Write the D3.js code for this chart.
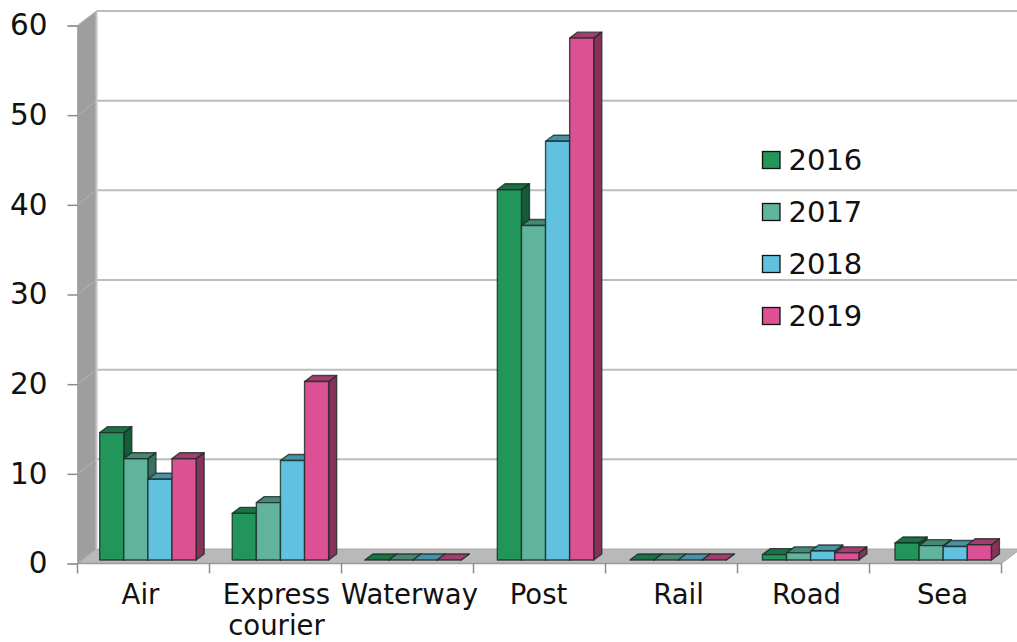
<!DOCTYPE html>
<html><head><meta charset="utf-8">
<script src="https://cdn.jsdelivr.net/npm/d3@7"></script>
<style>html,body{margin:0;padding:0;background:#fff;overflow:hidden}svg{display:block}text{font-family:"DejaVu Sans",sans-serif;fill:#111}</style>
</head><body><svg id="c" width="1017" height="642"></svg>
<script>
const categories = ["Air","Express courier","Waterway","Post","Rail","Road","Sea"];
const years = ["2016","2017","2018","2019"];
const values2016 = [14.2,5.2,0,41.3,0,0.6,1.9];
const values2017 = [11.3,6.4,0,37.3,0,0.8,1.6];
const values2018 = [9.0,11.1,0,46.7,0,1.0,1.5];
const values2019 = [11.3,19.9,0,58.2,0,0.8,1.7];
const seriesValues = [values2016,values2017,values2018,values2019];
const colors = ["#22965a","#60b49c","#60c2de","#dc5094"];
const yTicks = [0,10,20,30,40,50,60];
const labelNudge = [-3,1,2,-1,7,3,7];

const M = {x0:77.5,x1:1001.5,depthX:19,depthY:14.5};
const svg = d3.select("#c");
const x = d3.scaleBand().domain(categories).range([M.x0,M.x1]);
const xBars = d3.scaleBand().domain(categories).range([99.7,99.7+132.55*7]);
const y = d3.scaleLinear().domain([0,60]).range([563.5,25.5]);
const barW = 24.1, bdx = 8, bdy = 6, lift = 3.5;
const inner = d3.scaleBand().domain(years).range([0,barW*4]);
const poly = p => p.map(q=>q.join(",")).join(" ");

// wall and floor
svg.append("polygon").attr("fill","#9e9e9e").attr("stroke","#bdbdbd").attr("stroke-width",1)
  .attr("points",poly([[M.x0,y(60)],[M.x0+M.depthX,y(60)-M.depthY],[M.x0+M.depthX,y(0)-M.depthY],[M.x0,y(0)]]));
svg.append("polygon").attr("fill","#b9b9b9").attr("stroke","#a8a8a8").attr("stroke-width",1)
  .attr("points",poly([[M.x0,y(0)],[M.x0+M.depthX,y(0)-M.depthY],[M.x1+M.depthX,y(0)-M.depthY],[M.x1,y(0)]]));

// gridlines
yTicks.filter(t=>t>0).forEach(t=>{
  svg.append("line").attr("x1",M.x0+M.depthX).attr("x2",M.x1+M.depthX)
    .attr("y1",y(t)-M.depthY).attr("y2",y(t)-M.depthY).attr("stroke","#bcbcbc").attr("stroke-width",2);
  svg.append("line").attr("x1",M.x0).attr("x2",M.x0+M.depthX)
    .attr("y1",y(t)).attr("y2",y(t)-M.depthY).attr("stroke","#b4b4b4").attr("stroke-width",1);
});
svg.append("line").attr("x1",M.x0+M.depthX).attr("x2",M.x0+M.depthX).attr("y1",y(60)-M.depthY).attr("y2",y(0)-M.depthY).attr("stroke","#c4c4c4").attr("stroke-width",2);

// axes
const yAxis = d3.axisLeft(y).tickValues(yTicks).tickSize(10).tickPadding(20).tickFormat(d3.format("d"));
const gy = svg.append("g").attr("transform",`translate(${M.x0},0)`).call(yAxis);
gy.select(".domain").attr("stroke","#9a9a9a");
gy.selectAll(".tick line").attr("stroke","#8c8c8c").attr("stroke-width",1.5);
gy.selectAll(".tick text").attr("font-size",29.5).attr("fill","#111").attr("font-family",'"DejaVu Sans",sans-serif');

const gx = svg.append("g").attr("transform",`translate(0,${y(0)})`);
gx.append("line").attr("x1",M.x0).attr("x2",M.x1).attr("stroke","#9a9a9a").attr("stroke-width",1.5);
d3.range(categories.length+1).map(i=>M.x0+i*x.bandwidth()).forEach(px=>{
  gx.append("line").attr("x1",px).attr("x2",px).attr("y1",0).attr("y2",10).attr("stroke","#8c8c8c").attr("stroke-width",1.5);
});
categories.forEach((c,i)=>{
  const t = svg.append("text").attr("text-anchor","middle").attr("font-size",27.5)
    .attr("x",x(c)+x.bandwidth()/2+labelNudge[i]).attr("y",604);
  const parts = c.split(" ");
  parts.forEach((p,k)=>t.append("tspan").attr("x",x(c)+x.bandwidth()/2+labelNudge[i]).attr("dy",k?31:0).text(p));
});

// bars
const shade = (col,k)=>d3.rgb(col).darker(k).formatHex();
const edge = "#1c2a26";
categories.forEach((c,i)=>{
  years.forEach((yr,s)=>{
    const v = seriesValues[s][i];
    const l = xBars(c)+inner(yr), r = l+inner.bandwidth();
    const b = y(0)-lift, t = y(v)-lift;
    const g = svg.append("g").attr("stroke",edge).attr("stroke-width",1.4).attr("stroke-linejoin","round").attr("stroke-opacity",.8);
    g.append("polygon").attr("fill",shade(colors[s],1.35))
      .attr("points",poly([[r,t],[r+bdx,t-bdy],[r+bdx,b-bdy],[r,b]]));
    g.append("polygon").attr("fill",shade(colors[s],0.8))
      .attr("points",poly([[l,t],[l+bdx,t-bdy],[r+bdx,t-bdy],[r,t]]));
    g.append("rect").attr("x",l).attr("y",t).attr("width",r-l).attr("height",Math.max(b-t,0)).attr("fill",colors[s]);
  });
});

// legend
const legendY = d3.scalePoint().domain(years).range([160,316]);
years.forEach((yr,s)=>{
  svg.append("rect").attr("x",762.5).attr("y",legendY(yr)-8.5).attr("width",17.5).attr("height",17)
    .attr("fill",colors[s]).attr("stroke","#111").attr("stroke-width",1.3);
  svg.append("text").attr("x",788.5).attr("y",legendY(yr)+10).attr("font-size",29).text(yr);
});
</script></body></html>
